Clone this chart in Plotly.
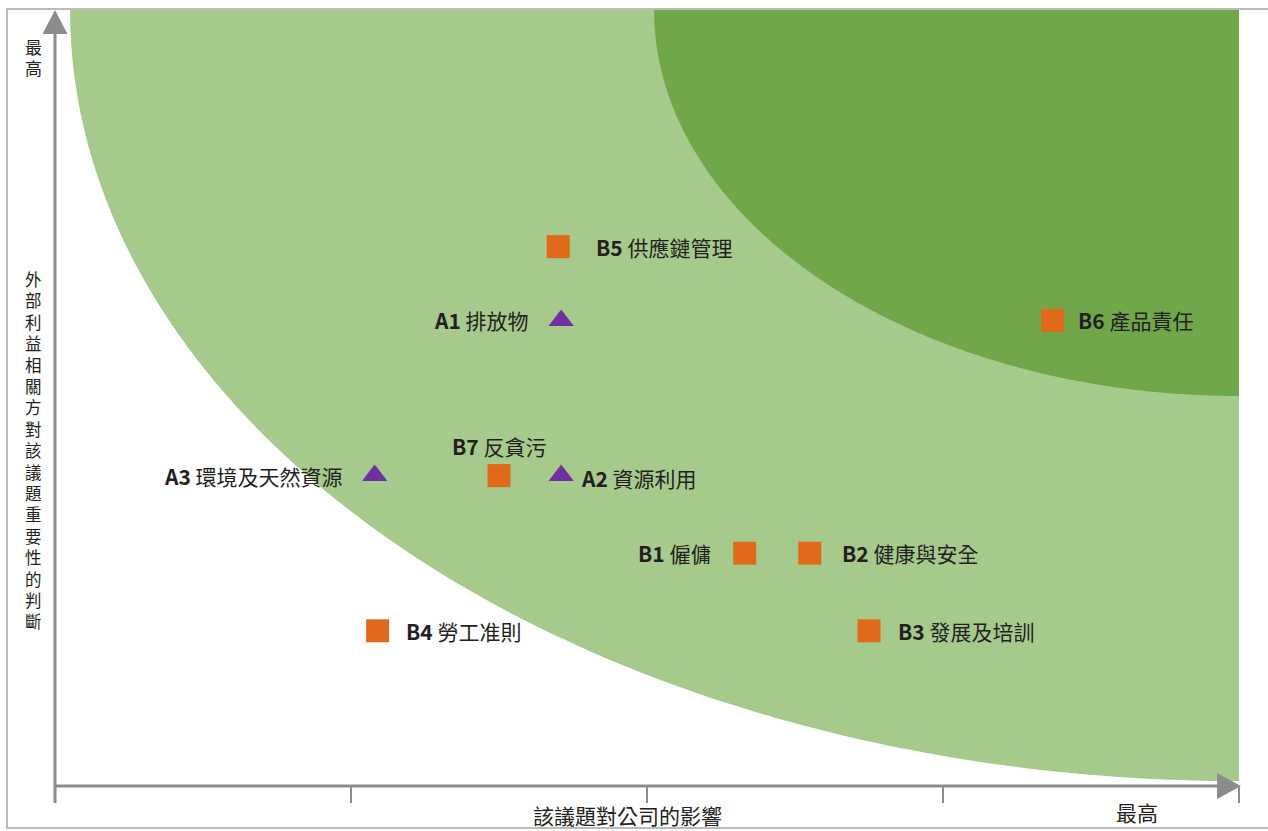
import numpy as np
import plotly.graph_objects as go

# ---------------- data ----------------
codes = ["A1", "A2", "A3", "B1", "B2", "B3", "B4", "B5", "B6", "B7"]
names = ["排放物", "資源利用", "環境及天然資源", "僱傭", "健康與安全",
         "發展及培訓", "勞工准則", "供應鏈管理", "產品責任", "反貪污"]
impact = [1.71, 1.71, 1.08, 2.33, 2.55, 2.75, 1.09, 1.70, 3.37, 1.50]       # x: 該議題對公司的影響
importance = [6.0, 4.0, 4.0, 3.0, 3.0, 2.0, 2.0, 6.95, 6.0, 4.0]            # y: 外部利益相關方對該議題重要性的判斷
x_ticks = [0, 1, 2, 3, 4]
x_title = "該議題對公司的影響"
y_title = "外部利益相關方對該議題重要性的判斷"
max_label = "最高"

# ---------------- styling / layout ----------------
X_RANGE = [0, 4]
Y_RANGE = [0, 10]
W, H = 1268, 831
ML, MR, MT, MB = 55, 29, 10, 45
PW, PH = W - ML - MR, H - MT - MB

ORANGE = "#E0691A"
PURPLE = "#7030A0"
LIGHT_G = "#A5CA8C"
DARK_G = "#70A749"
AXIS_C = "#8C8C8C"
TEXT_C = "#231F20"
FONT = "Noto Sans CJK TC"

# label placement: (anchor, xshift, yshift)
label_pos = {
    "A1": ("right", -30, 0), "A2": ("left", 18, -2), "A3": ("right", -30, 0),
    "B1": ("right", -32, 0), "B2": ("left", 30, 0), "B3": ("left", 27, 0),
    "B4": ("left", 26, 0), "B5": ("left", 36, 0), "B6": ("left", 23, 0),
    "B7": ("center", 0, 30),
}

def px_to_paper(px, py):
    return (px - ML) / PW, (H - MB - py) / PH

def quarter_ellipse_path(cx, cy, rx, ry, n=160):
    t = np.linspace(0, np.pi / 2, n)
    xs = cx - rx * np.cos(t)
    ys = cy - ry * np.sin(t)
    pts = " L ".join(f"{a:.5f},{b:.5f}" for a, b in zip(xs, ys))
    return f"M {cx},{cy} L {pts} Z"

fig = go.Figure()

is_env = [c.startswith("A") for c in codes]
fig.add_trace(go.Scatter(
    x=[x for x, e in zip(impact, is_env) if not e],
    y=[y for y, e in zip(importance, is_env) if not e],
    mode="markers", marker=dict(symbol="square", size=23, color=ORANGE, line=dict(width=0)),
    hoverinfo="skip", showlegend=False))
fig.add_trace(go.Scatter(
    x=[x for x, e in zip(impact, is_env) if e],
    y=[y for y, e in zip(importance, is_env) if e],
    mode="markers", marker=dict(symbol="triangle-up", size=22, color=PURPLE, line=dict(width=0)),
    hoverinfo="skip", showlegend=False))

shapes = []
# zones (quarter ellipses centred at the top-right corner)
shapes.append(dict(type="path", xref="x", yref="y", layer="below",
                   path=quarter_ellipse_path(X_RANGE[1], Y_RANGE[1], 3.949, 9.936),
                   fillcolor=LIGHT_G, line=dict(width=0)))
shapes.append(dict(type="path", xref="x", yref="y", layer="below",
                   path=quarter_ellipse_path(X_RANGE[1], Y_RANGE[1], 1.976, 4.974),
                   fillcolor=DARK_G, line=dict(width=0)))

# outer border
bx0, by0 = px_to_paper(7, 828)
bx1, by1 = px_to_paper(1290, 9)
shapes.append(dict(type="rect", xref="paper", yref="paper", x0=bx0, y0=by0, x1=bx1, y1=by1,
                   line=dict(color="#A6A6A6", width=1.5), fillcolor="rgba(0,0,0,0)"))

# x axis line + arrow
ax0, ay0 = px_to_paper(55, 786)
ax1, _ = px_to_paper(1218, 786)
shapes.append(dict(type="line", xref="paper", yref="paper", x0=ax0, y0=ay0, x1=ax1, y1=ay0,
                   line=dict(color=AXIS_C, width=3)))
tx, _ = px_to_paper(1241, 786)
bxx, _ = px_to_paper(1217, 786)
hh = 13 / PH
shapes.append(dict(type="path", xref="paper", yref="paper",
                   path=f"M {tx},{ay0} L {bxx},{ay0 + hh} L {bxx},{ay0 - hh} Z",
                   fillcolor=AXIS_C, line=dict(width=0)))
# ticks
_, tick_bot = px_to_paper(0, 803)
for t in x_ticks:
    xp = (t - X_RANGE[0]) / (X_RANGE[1] - X_RANGE[0])
    shapes.append(dict(type="line", xref="paper", yref="paper", x0=xp, x1=xp, y0=ay0, y1=tick_bot,
                       line=dict(color=AXIS_C, width=2)))

# y axis line + arrow
_, yt = px_to_paper(55, 33)
shapes.append(dict(type="line", xref="paper", yref="paper", x0=0, y0=tick_bot, x1=0, y1=yt,
                   line=dict(color=AXIS_C, width=3)))
_, ytip = px_to_paper(55, 10)
_, ybase = px_to_paper(55, 34)
hw = 12.5 / PW
shapes.append(dict(type="path", xref="paper", yref="paper",
                   path=f"M 0,{ytip} L {hw},{ybase} L {-hw},{ybase} Z",
                   fillcolor=AXIS_C, line=dict(width=0)))

annotations = []
for c, n, x, y in zip(codes, names, impact, importance):
    anc, xs, ys = label_pos[c]
    annotations.append(dict(
        x=x, y=y, xref="x", yref="y", text=f"<b>{c}</b> {n}", showarrow=False,
        xanchor=anc, yanchor="middle", xshift=xs, yshift=ys,
        font=dict(family=FONT, size=21, color=TEXT_C)))

# axis titles
px_, py_ = px_to_paper(627, 815)
annotations.append(dict(x=px_, y=py_, xref="paper", yref="paper", text=x_title, showarrow=False,
                        xanchor="center", yanchor="middle",
                        font=dict(family=FONT, size=21, color=TEXT_C)))
px_, py_ = px_to_paper(1137, 812)
annotations.append(dict(x=px_, y=py_, xref="paper", yref="paper", text=max_label, showarrow=False,
                        xanchor="center", yanchor="middle",
                        font=dict(family=FONT, size=21, color=TEXT_C)))

# vertical (stacked) y-axis texts, one glyph per annotation
def vertical_text(text, cx, first_cy, pitch, size):
    for i, ch in enumerate(text):
        xp, yp = px_to_paper(cx, first_cy + i * pitch)
        annotations.append(dict(x=xp, y=yp, xref="paper", yref="paper", text=ch,
                                showarrow=False, xanchor="center", yanchor="middle",
                                height=pitch - 1.5, valign="middle",
                                font=dict(family=FONT, size=size, color=TEXT_C)))

vertical_text(max_label, 33, 47, 21.4, 17)
vertical_text(y_title, 33, 279, 21.4, 16.5)

fig.update_layout(
    width=W, height=H,
    margin=dict(l=ML, r=MR, t=MT, b=MB, pad=0),
    paper_bgcolor="white", plot_bgcolor="white",
    xaxis=dict(range=X_RANGE, visible=False, fixedrange=True),
    yaxis=dict(range=Y_RANGE, visible=False, fixedrange=True),
    shapes=shapes, annotations=annotations,
    showlegend=False,
)

fig.write_html("out.html", config={"displayModeBar": False},
               post_script="document.body.style.margin='0';document.body.style.overflow='hidden';")
